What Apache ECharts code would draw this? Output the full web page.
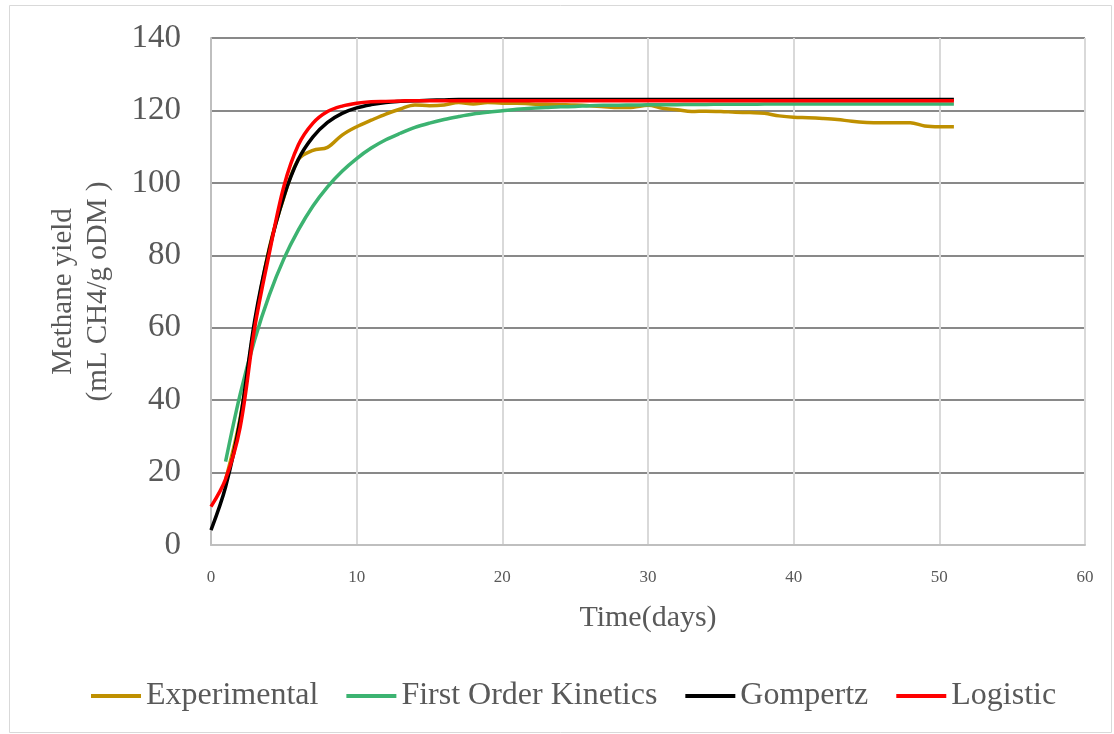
<!DOCTYPE html>
<html>
<head>
<meta charset="utf-8">
<script src="https://cdn.jsdelivr.net/npm/echarts@6/dist/echarts.min.js"></script>
<style>
html,body{margin:0;padding:0;background:#fff;}
#chart{width:1114px;height:734px;}
</style>
</head>
<body>
<div id="chart"></div>
<script>
// ---- data ----
const seriesNames = ['Experimental', 'First Order Kinetics', 'Gompertz', 'Logistic'];
const xTicks = [0, 10, 20, 30, 40, 50, 60];
const yTicks = [0, 20, 40, 60, 80, 100, 120, 140];

const modelDays = [0,1,2,3,4,5,6,7,8,9,10,11,12,13,14,15,16,17,18,19,20,21,22,23,24,25,26,27,28,29,30,31,32,33,34,35,36,37,38,39,40,41,42,43,44,45,46,47,48,49,50,51];
const expDays = [1,2,3,4,5,6,7,8,9,10,11,12,13,14,15,16,17,18,19,20,21,22,23,24,25,26,27,28,29,30,31,32,33,34,35,36,37,38,39,40,41,42,43,44,45,46,47,48,49,50,51];

const experimental = [18,35,61,82,96,106.5,109,109.8,113.2,115.5,117.3,119.0,120.4,121.5,121.3,121.5,122.2,121.8,122.2,122.0,122.0,121.8,121.7,121.6,121.5,121.3,121.0,120.8,120.9,121.4,120.6,120.2,119.7,119.8,119.7,119.5,119.4,119.2,118.5,118.1,118.0,117.8,117.5,117.0,116.7,116.6,116.6,116.6,115.7,115.5,115.5];
const firstOrder = [23.0,41.6,56.7,69.0,79.0,87.0,93.6,98.9,103.2,106.7,109.6,111.9,113.7,115.3,116.5,117.5,118.3,119.0,119.5,119.9,120.3,120.6,120.8,121.0,121.1,121.3,121.4,121.45,121.5,121.55,121.6,121.6,121.65,121.65,121.7,121.7,121.7,121.75,121.75,121.75,121.75,121.8,121.8,121.8,121.8,121.8,121.8,121.8,121.8,121.8,121.8];
const gompertz = [4.1,16,34.5,62,81.6,96.2,106.5,112.7,116.7,119.2,120.7,121.6,122.2,122.5,122.7,122.8,122.9,123.0,123.0,123.0,123.0,123.0,123.0,123.0,123.0,123.0,123.0,123.0,123.0,123.0,123.0,123.0,123.0,123.0,123.0,123.0,123.0,123.0,123.0,123.0,123.0,123.0,123.0,123.0,123.0,123.0,123.0,123.0,123.0,123.0,123.0,123.0];
const logistic = [10.6,18.2,32.5,60,80.5,99,110.5,116.5,119.7,121.2,122.0,122.4,122.5,122.6,122.7,122.7,122.7,122.7,122.7,122.7,122.7,122.7,122.7,122.7,122.7,122.7,122.7,122.7,122.7,122.7,122.7,122.7,122.7,122.7,122.7,122.7,122.7,122.7,122.7,122.7,122.7,122.7,122.7,122.7,122.7,122.7,122.7,122.7,122.7,122.7,122.7,122.7];

const colors = ['#BF9000', '#3CB371', '#000000', '#FF0000'];

function pairs(xs, ys) { return xs.map((x, i) => [x, ys[i]]); }

const font = '"Liberation Serif", "Times New Roman", serif';
const txt = '#595959';

const chart = echarts.init(document.getElementById('chart'), null, {renderer: 'canvas'});
const dataSets = [pairs(expDays, experimental), pairs(expDays, firstOrder), pairs(modelDays, gompertz), pairs(modelDays, logistic)];

chart.setOption({
  animation: false,
  backgroundColor: '#ffffff',
  color: colors,
  grid: {left: 211, right: 29, top: 38, bottom: 189, containLabel: false},
  graphic: [{
    type: 'rect', left: 7, top: 3, shape: {width: 1102, height: 727},
    style: {fill: 'none', stroke: '#d9d9d9', lineWidth: 1}, silent: true, z: -1
  }],
  legend: {
    top: 675, left: 86,
    icon: 'rect', itemWidth: 50, itemHeight: 4, itemGap: 28,
    textStyle: {fontFamily: font, fontSize: 32, color: txt, padding: [0, 0, 0, 0]},
    data: seriesNames
  },
  xAxis: {
    type: 'value', min: xTicks[0], max: xTicks[xTicks.length - 1], interval: 10,
    name: 'Time(days)', nameLocation: 'middle', nameGap: 58,
    nameTextStyle: {fontFamily: font, fontSize: 30, color: txt},
    axisLine: {show: true, lineStyle: {color: '#bfbfbf', width: 2}},
    axisTick: {show: false},
    axisLabel: {fontFamily: font, fontSize: 17, color: txt, margin: 24},
    splitLine: {show: true, lineStyle: {color: '#d9d9d9', width: 2}}
  },
  yAxis: {
    type: 'value', min: yTicks[0], max: yTicks[yTicks.length - 1], interval: 20,
    name: 'Methane yield\n(mL CH4/g oDM )', nameLocation: 'middle', nameGap: 95,
    nameTextStyle: {fontFamily: font, fontSize: 29, color: txt, lineHeight: 35},
    axisLine: {show: true, lineStyle: {color: '#bfbfbf', width: 2}},
    axisTick: {show: false},
    axisLabel: {fontFamily: font, fontSize: 33, color: txt, margin: 30},
    splitLine: {show: true, lineStyle: {color: '#898989', width: 2}}
  },
  series: seriesNames.map((name, i) => ({
    name: name, type: 'line', data: dataSets[i],
    smooth: 0.35, showSymbol: false, symbol: 'none',
    lineStyle: {width: 3.5, color: colors[i]},
    itemStyle: {color: colors[i]},
    z: 2 + i
  }))
});
</script>
</body>
</html>
